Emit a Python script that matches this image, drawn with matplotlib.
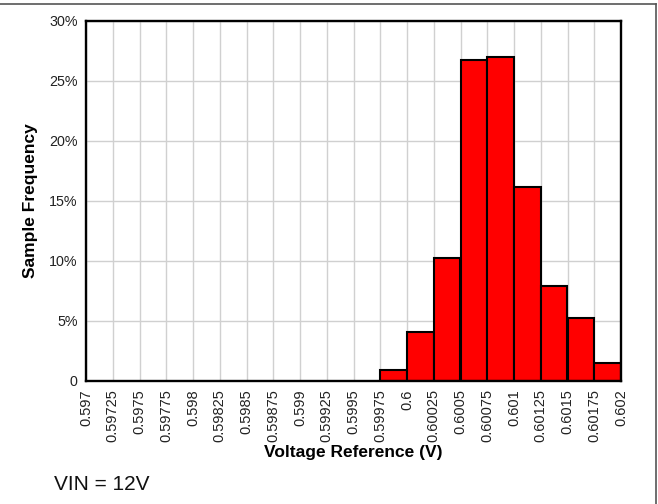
import matplotlib
matplotlib.use("Agg")
import matplotlib.pyplot as plt
from matplotlib.lines import Line2D
import numpy as np

plt.rcParams['font.family'] = ['Liberation Sans', 'DejaVu Sans']

# Data
bin_left_edges = [0.59975, 0.6, 0.60025, 0.6005, 0.60075, 0.601, 0.60125, 0.6015, 0.60175]
frequency_pct = [0.91, 4.1, 10.28, 26.75, 27.0, 16.15, 7.92, 5.29, 1.47]
bin_width = 0.00025

x_tick_labels = ["0.597", "0.59725", "0.5975", "0.59775", "0.598", "0.59825", "0.5985",
                 "0.59875", "0.599", "0.59925", "0.5995", "0.59975", "0.6", "0.60025",
                 "0.6005", "0.60075", "0.601", "0.60125", "0.6015", "0.60175", "0.602"]
y_tick_values = [0, 5, 10, 15, 20, 25, 30]
y_tick_labels = ["0", "5%", "10%", "15%", "20%", "25%", "30%"]

fig = plt.figure(figsize=(6.58, 5.04), dpi=100)
ax = fig.add_axes([86/658, 1-381/504, (621-86)/658, (381-21)/504])

ax.bar(bin_left_edges, frequency_pct, width=bin_width, align='edge',
       color='#ff0000', edgecolor='black', linewidth=1.5, zorder=3)

x_ticks = [float(s) for s in x_tick_labels]
ax.set_xlim(0.597, 0.602)
ax.set_ylim(0, 30)
ax.set_xticks(x_ticks)
ax.set_xticklabels(x_tick_labels, rotation=90, fontsize=10.5, color='#222222')
ax.set_yticks(y_tick_values)
ax.set_yticklabels(y_tick_labels, fontsize=10.3, color='#222222')
ax.tick_params(axis='both', length=0, pad=6)

ax.grid(True, color='#d0d0d0', linewidth=1.0, zorder=0)
ax.set_axisbelow(True)
for sp in ax.spines.values():
    sp.set_linewidth(1.7)
    sp.set_color('black')
    sp.set_zorder(5)

ax.set_xlabel("Voltage Reference (V)", fontsize=12.5, fontweight='bold', labelpad=2)
ax.set_ylabel("Sample Frequency", fontsize=12.5, fontweight='bold', labelpad=8)

fig.text(54/658, 1-484/504, "VIN = 12V", fontsize=15, va='center', ha='left', color='#111111')

# figure frame lines (top and right)
fig.add_artist(Line2D([0, 656/658], [1-3.5/504, 1-3.5/504], color='#555555', linewidth=1.2,
                      transform=fig.transFigure))
fig.add_artist(Line2D([656/658, 656/658], [0, 1-3.5/504], color='#555555', linewidth=1.2,
                      transform=fig.transFigure))

fig.savefig("out.png", dpi=100)
